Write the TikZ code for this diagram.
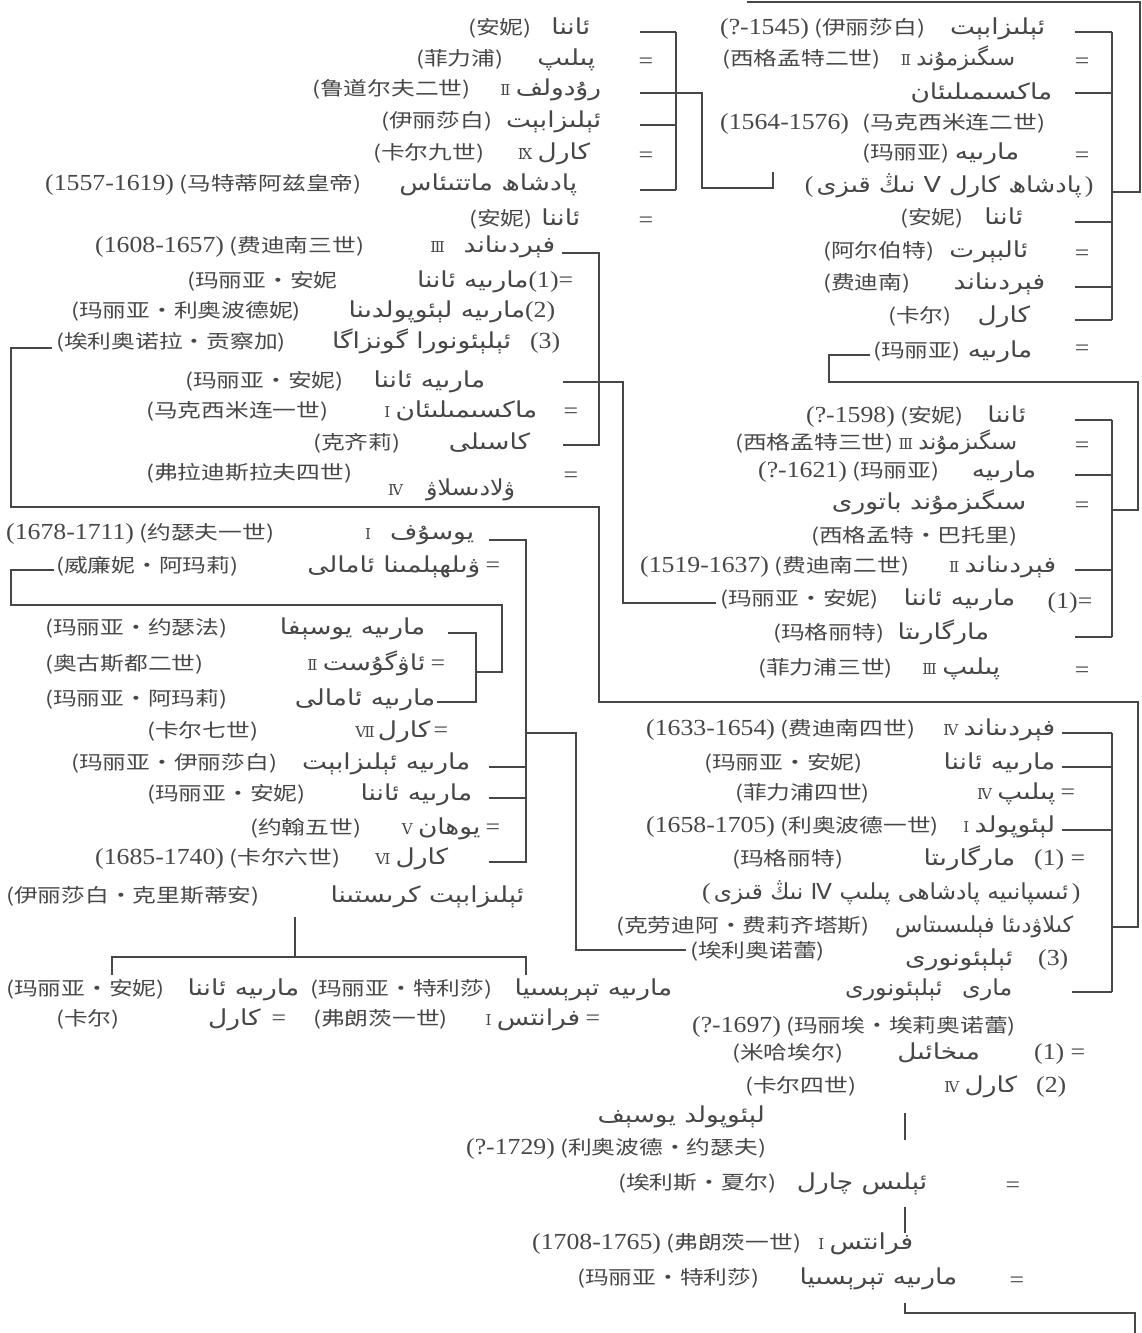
\documentclass[tikz,border=0pt]{standalone}
\usepackage{fontspec}
\usepackage{graphicx}
\TeXXeTstate=1
\newfontfamily\ZHfam{Noto Sans CJK SC}[FakeStretch=1.25]
\newfontfamily\UGfam[Script=Arabic]{DejaVu Sans}[FakeStretch=1.2]
\newfontfamily\DTfam{Liberation Serif}[FakeStretch=1.12]
\newfontfamily\RNfam{DejaVu Serif}
\newcommand\ZHfont{\ZHfam\fontsize{19pt}{22pt}\selectfont}
\newcommand\UGfont{\UGfam\fontsize{22pt}{24pt}\selectfont}
\newcommand\DTfont{\DTfam\fontsize{23pt}{24pt}\selectfont}
\newcommand\RNfont{\RNfam\fontsize{15pt}{22pt}\selectfont}
\newcommand\ZH[1]{{\ZHfont #1}}
\newcommand\UG[1]{{\UGfont\beginR #1\endR}}
\newcommand\DT[1]{{\DTfont #1}}
\newcommand\RN[1]{{\RNfont #1}}
\newcommand\SX[2]{\scalebox{#1}[1]{#2}}
\definecolor{ink}{gray}{0.28}
\tikzset{
  rowbox/.style={anchor=mid west, inner sep=0pt, font=\ZHfont, text=ink},
  eqn/.style={inner sep=0pt, font=\DTfont, text=ink},
  ln/.style={draw=ink, line width=1.2pt}
}
\newcommand\ROW[5]{\node[rowbox] (#1) at (#2,#4) {\hbox to \dimexpr #3pt-#2pt\relax{#5}};}
\begin{document}
\begin{tikzpicture}[x=1pt,y=-1pt]
\fill[white] (0,0) rectangle (1142,1333);
\useasboundingbox (0,0) rectangle (1142,1333);
% ---------------- top-left column
\ROW{l1}{468}{590}{32}{\ZH{(安妮)}\hss\UG{ئاننا}}
\ROW{l2}{416}{595}{63}{\ZH{(菲力浦)}\hss\UG{پىلىپ}}
\ROW{l3}{312}{601}{93}{\ZH{(鲁道尔夫二世)}\hss\RN{Ⅱ}\ \UG{رۇدولف}}
\ROW{l4}{381}{601}{125}{\ZH{(伊丽莎白)}\hss\UG{ئېلىزابېت}}
\ROW{l5}{373}{590}{157}{\ZH{(卡尔九世)}\hss\RN{Ⅸ}\ \UG{كارل}}
\ROW{l6}{45}{577}{188}{\DT{(1557-1619)}\ \ZH{(马特蒂阿兹皇帝)}\hss\UG{پادشاھ ماتتىئاس}}
\ROW{l7}{469}{580}{223}{\ZH{(安妮)}\hss\UG{ئاننا}}
\ROW{l8}{95}{555}{250}{\DT{(1608-1657)}\ \ZH{(费迪南三世)}\hss\RN{Ⅲ}\quad\UG{فېردىناند}}
\ROW{l9}{187}{573}{285}{\ZH{(玛丽亚・安妮}\hss\UG{مارىيە ئاننا}\DT{(1)=}}
\ROW{l10}{71}{555}{315}{\ZH{(玛丽亚・利奥波德妮)}\hss\UG{مارىيە لېئوپولدىنا}\DT{(2)}}
\ROW{l11}{56}{560}{346}{\ZH{(埃利奥诺拉・贡察加)}\hss\UG{ئېلېئونورا گونزاگا}\quad\DT{(3)}}
\ROW{l12}{185}{485}{385}{\ZH{(玛丽亚・安妮)}\hss\UG{مارىيە ئاننا}}
\ROW{l13}{146}{537}{415}{\ZH{(马克西米连一世)}\hss\RN{Ⅰ}\ \UG{ماكسىمىلىئان}}
\ROW{l14}{313}{530}{447}{\ZH{(克齐莉)}\hss\UG{كاسىلى}}
\ROW{l15}{146}{366}{477}{\ZH{(弗拉迪斯拉夫四世)}\hss}
\ROW{l15b}{388}{515}{493}{\RN{Ⅳ}\hss\SX{0.9}{\UG{ۋلادىسلاۋ}}}
\ROW{l16}{6}{474}{537}{\DT{(1678-1711)}\ \ZH{(约瑟夫一世)}\hss\RN{Ⅰ}\quad\UG{يوسۇف}}
\ROW{l17}{56}{500}{570}{\ZH{(威廉妮・阿玛莉)}\hss\UG{ۋىلھېلمىنا ئامالى}\ \DT{=}}
\ROW{l18}{45}{425}{632}{\ZH{(玛丽亚・约瑟法)}\hss\UG{مارىيە يوسېفا}}
\ROW{l19}{45}{445}{668}{\ZH{(奥古斯都二世)}\hss\RN{Ⅱ}\ \UG{ئاۋگۇست}\ \DT{=}}
\ROW{l20}{45}{435}{703}{\ZH{(玛丽亚・阿玛莉)}\hss\UG{مارىيە ئامالى}}
\ROW{l21}{147}{448}{735}{\ZH{(卡尔七世)}\hss\RN{Ⅶ}\,\UG{كارل}\,\DT{=}}
\ROW{l22}{71}{470}{767}{\ZH{(玛丽亚・伊丽莎白)}\hss\UG{مارىيە ئېلىزابېت}}
\ROW{l23}{147}{472}{798}{\ZH{(玛丽亚・安妮)}\hss\UG{مارىيە ئاننا}}
\ROW{l24}{250}{500}{832}{\ZH{(约翰五世)}\hss\RN{Ⅴ}\ \UG{يوھان}\ \DT{=}}
\ROW{l25}{95}{448}{862}{\DT{(1685-1740)}\ \ZH{(卡尔六世)}\hss\RN{Ⅵ}\ \UG{كارل}}
\ROW{l26}{6}{524}{900}{\ZH{(伊丽莎白・克里斯蒂安)}\hss\UG{ئېلىزابېت كرىستىنا}}
\ROW{l27a}{6}{299}{993}{\ZH{(玛丽亚・安妮)}\hss\UG{مارىيە ئاننا}}
\ROW{l27b}{310}{672}{993}{\ZH{(玛丽亚・特利莎)}\hss\UG{مارىيە تېرېسىيا}}
\ROW{l28a}{56}{119}{1023}{\ZH{(卡尔)}\hss}
\ROW{l28b}{208}{286}{1023}{\UG{كارل}\hss\DT{=}}
\ROW{l28c}{313}{600}{1023}{\ZH{(弗朗茨一世)}\hss\RN{Ⅰ}\ \UG{فرانتس}\ \DT{=}}
% ---------------- right column
\ROW{r1}{720}{1045}{32}{\DT{(?-1545)}\ \ZH{(伊丽莎白)}\hss\UG{ئېلىزابېت}}
\ROW{r2}{722}{1015}{63}{\ZH{(西格孟特二世)}\hss\RN{Ⅱ}\ \SX{0.85}{\UG{سىگىزمۇند}}}
\ROW{r3}{911}{1052}{97}{\hss\UG{ماكسىمىلىئان}}
\ROW{r4}{720}{1045}{127}{\DT{(1564-1576)}\hss\ZH{(马克西米连二世)}}
\ROW{r5}{862}{1019}{157}{\ZH{(玛丽亚)}\hss\UG{مارىيە}}
\ROW{r6}{790}{1108}{190}{\hss\DT{(}\,\SX{0.97}{\UG{پادشاھ كارل V نىڭ قىزى}}\,\DT{)}\hss}
\ROW{r7}{900}{1023}{222}{\ZH{(安妮)}\hss\UG{ئاننا}}
\ROW{r8}{823}{1028}{255}{\ZH{(阿尔伯特)}\hss\UG{ئالبېرت}}
\ROW{r9}{823}{1045}{287}{\ZH{(费迪南)}\hss\UG{فېردىناند}}
\ROW{r10}{888}{1030}{320}{\ZH{(卡尔)}\hss\UG{كارل}}
\ROW{r11}{873}{1032}{355}{\ZH{(玛丽亚)}\hss\UG{مارىيە}}
\ROW{r12}{806}{1026}{420}{\DT{(?-1598)}\ \ZH{(安妮)}\hss\UG{ئاننا}}
\ROW{r13}{735}{1017}{447}{\ZH{(西格孟特三世)}\hss\RN{Ⅲ}\ \SX{0.85}{\UG{سىگىزمۇند}}}
\ROW{r14}{758}{1036}{475}{\DT{(?-1621)}\ \ZH{(玛丽亚)}\hss\UG{مارىيە}}
\ROW{r15}{845}{1026}{507}{\hss\UG{سىگىزمۇند باتورى}}
\ROW{r16}{797}{1017}{540}{\hss\ZH{(西格孟特・巴托里)}}
\ROW{r17}{640}{1056}{570}{\DT{(1519-1637)}\ \ZH{(费迪南二世)}\hss\RN{Ⅱ}\ \UG{فېردىناند}}
\ROW{r18}{720}{1015}{603}{\ZH{(玛丽亚・安妮)}\hss\UG{مارىيە ئاننا}}
\ROW{r19}{773}{989}{637}{\ZH{(玛格丽特)}\hss\UG{مارگارىتا}}
\ROW{r20}{758}{1000}{672}{\ZH{(菲力浦三世)}\hss\RN{Ⅲ}\ \UG{پىلىپ}}
\ROW{r21}{646}{1055}{733}{\DT{(1633-1654)}\ \ZH{(费迪南四世)}\hss\RN{Ⅳ}\ \UG{فېردىناند}}
\ROW{r22}{704}{1055}{767}{\ZH{(玛丽亚・安妮)}\hss\UG{مارىيە ئاننا}}
\ROW{r23}{735}{1075}{797}{\ZH{(菲力浦四世)}\hss\RN{Ⅳ}\ \UG{پىلىپ}\ \DT{=}}
\ROW{r24}{646}{1055}{830}{\DT{(1658-1705)}\ \ZH{(利奥波德一世)}\hss\RN{Ⅰ}\ \UG{لېئوپولد}}
\ROW{r25}{732}{1085}{863}{\ZH{(玛格丽特)}\hss\UG{مارگارىتا}\quad\DT{(1) =}}
\ROW{r26}{685}{1097}{897}{\hss\DT{(}\,\SX{0.88}{\UG{ئىسپانىيە پادشاھى پىلىپ Ⅳ نىڭ قىزى}}\,\DT{)}\hss}
\ROW{r27}{616}{1073}{930}{\ZH{(克劳迪阿・费莉齐塔斯)}\hss\SX{0.85}{\UG{كىلاۋدىئا فېلىسىتاس}}}
\ROW{r28a}{690}{835}{955}{\ZH{(埃利奥诺蕾)}\hss}
\ROW{r28b}{905}{1068}{963}{\UG{ئېلېئونورى}\hss\DT{(3)}}
\ROW{r29}{845}{1012}{993}{\hss\SX{0.9}{\UG{مارى\quad ئېلېئونورى}}}
\ROW{r30}{692}{1041}{1030}{\DT{(?-1697)}\ \ZH{(玛丽埃・埃莉奥诺蕾)}\hss}
\ROW{r31}{732}{1085}{1057}{\ZH{(米哈埃尔)}\hss\UG{مىخائىل}\hss\DT{(1) =}}
\ROW{r32}{745}{1066}{1090}{\ZH{(卡尔四世)}\hss\RN{Ⅳ}\ \UG{كارل}\quad\DT{(2)}}
\ROW{r33}{597}{765}{1120}{\hss\UG{لېئوپولد يوسېف}\hss}
\ROW{r34}{466}{778}{1152}{\DT{(?-1729)}\ \ZH{(利奥波德・约瑟夫)}\hss}
\ROW{r35}{618}{927}{1187}{\ZH{(埃利斯・夏尔)}\hss\UG{ئېلىس چارل}}
\ROW{r36}{532}{913}{1247}{\DT{(1708-1765)}\ \ZH{(弗朗茨一世)}\hss\RN{Ⅰ}\ \UG{فرانتس}}
\ROW{r37}{577}{957}{1282}{\ZH{(玛丽亚・特利莎)}\hss\UG{مارىيە تېرېسىيا}}
% ---------------- marriage signs
\foreach \n/\x/\y in {a/646/63,b/646/157,c/646/222,d/1082/63,e/1082/157,f/1082/255,g/1082/350,
  h/1082/447,i/1082/507,j/1082/672,k/571/413,m/571/477,n/1013/1187,o/1017/1282}
  \node[eqn] (eq\n) at (\x,\y) {=};
\node[eqn] (eqp) at (1070,603) {(1)=};
% ---------------- connectors
\draw[ln] (747,2) -- (1140,2) -- (1140,192) -- (1112,192);
\draw[ln] (1112,32) -- (1112,320);
\foreach \y in {32,93,222,287,320} \draw[ln] (1075,\y) -- (1112,\y);
\draw[ln] (676,32) -- (676,190);
\foreach \y in {32,93,125,190} \draw[ln] (640,\y) -- (676,\y);
\draw[ln] (676,93) -- (702,93) -- (702,188) -- (773,188) -- (773,172);
\draw[ln] (870,355) -- (829,355) -- (829,382) -- (1138,382) -- (1138,510) -- (1112,510);
\draw[ln] (1112,420) -- (1112,637);
\foreach \y in {420,475,570,637} \draw[ln] (1075,\y) -- (1112,\y);
\draw[ln] (562,253) -- (599,253) -- (599,445) -- (563,445);
\draw[ln] (563,382) -- (623,382) -- (623,603) -- (716,603);
\draw[ln] (52,348) -- (11,348) -- (11,507) -- (599,507) -- (599,702) -- (1138,702) -- (1138,927) -- (1112,927);
\draw[ln] (1112,733) -- (1112,992);
\foreach \y in {733,767,830} \draw[ln] (1062,\y) -- (1112,\y);
\draw[ln] (1072,992) -- (1112,992);
\draw[ln] (489,540) -- (526,540) -- (526,862) -- (489,862);
\foreach \y in {767,798} \draw[ln] (489,\y) -- (526,\y);
\draw[ln] (526,733) -- (576,733) -- (576,950) -- (686,950);
\draw[ln] (54,570) -- (11,570) -- (11,605) -- (502,605) -- (502,672) -- (476,672);
\draw[ln] (448,633) -- (476,633) -- (476,702) -- (437,702);
\draw[ln] (295,917) -- (295,957);
\draw[ln] (112,975) -- (112,957) -- (526,957) -- (526,975);
\draw[ln] (905,1113) -- (905,1140);
\draw[ln] (905,1207) -- (905,1233);
\draw[ln] (905,1303) -- (905,1313) -- (1135,1313) -- (1135,1333);
\end{tikzpicture}
\end{document}
